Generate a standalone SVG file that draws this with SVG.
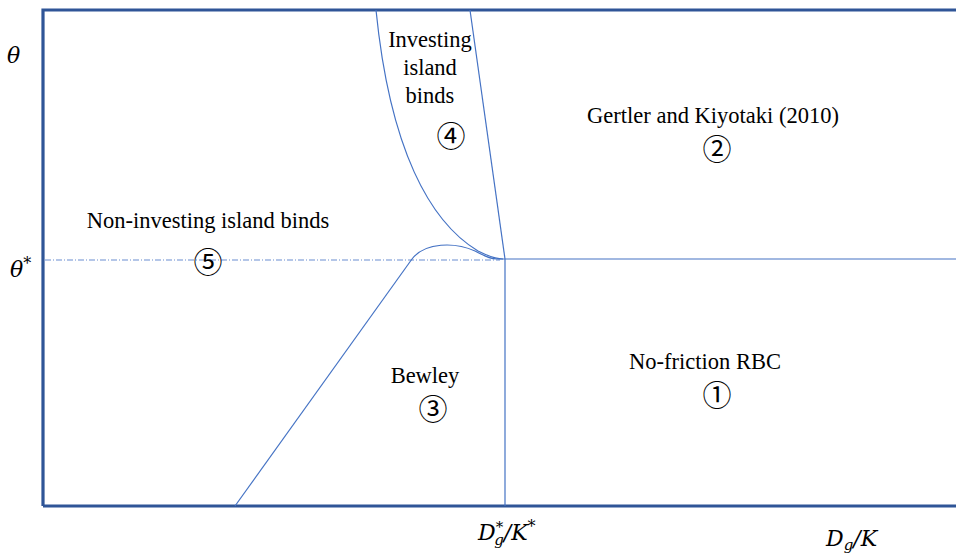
<svg xmlns="http://www.w3.org/2000/svg" width="956" height="556" viewBox="0 0 956 556">
<style>
.frame{fill:none;stroke:#2F5597;stroke-width:3.2}
.thin{fill:none;stroke:#4472C4;stroke-width:1.2}
.dd{fill:none;stroke:#4472C4;stroke-width:1;stroke-dasharray:6 2 1 2;opacity:0.8}
.lbl{font-family:"Liberation Serif","Times New Roman",serif;font-size:22.5px;fill:#000;text-anchor:middle}
.num{font-family:"Noto Sans CJK JP","DejaVu Sans",sans-serif;font-size:29px;fill:#000;text-anchor:middle}
.math{font-family:"DejaVu Serif","Liberation Serif",serif;font-style:italic;font-size:22px;fill:#000}
</style>
<rect width="956" height="556" fill="#fff"/>
<g id="axes">
<path class="frame" d="M43,506 L43,10 L956,10 M43,506 L956,506"/>
</g>
<g id="connectors">
<path class="dd" d="M45,260 L500,260"/>
<path class="thin" d="M505,259 L956,259"/>
<path class="thin" d="M505,259 L505,506"/>
<path class="thin" d="M235,506 L412,259"/>
<path class="thin" d="M412,259 C425,242 455,242 475,251 C485,256 490,259 497,259 L505,259"/>
<path class="thin" d="M376,10 C390,150 430,222 478,251 C488,256 495,259 503,259"/>
<path class="thin" d="M470,10 L505,259"/>
</g>
<g id="n5">
<text class="lbl" x="208" y="228">Non-investing island binds</text>
<text class="num" x="208" y="273">⑤</text>
</g>
<g id="n4">
<text class="lbl" x="430" y="47">Investing</text>
<text class="lbl" x="430" y="75">island</text>
<text class="lbl" x="430" y="103">binds</text>
<text class="num" x="451" y="147">④</text>
</g>
<g id="n2">
<text class="lbl" x="713" y="123">Gertler and Kiyotaki (2010)</text>
<text class="num" x="717" y="160">②</text>
</g>
<g id="n3">
<text class="lbl" x="425" y="383">Bewley</text>
<text class="num" x="433" y="420">③</text>
</g>
<g id="n1">
<text class="lbl" x="705" y="369">No-friction RBC</text>
<text class="num" x="717" y="406">①</text>
</g>
<g id="axislabels">
<text class="math" x="7" y="63">θ</text>
<text class="math" x="10" y="277">θ<tspan font-style="normal" font-size="16" dy="-8">*</tspan></text>
<text class="math" x="478" y="540">D<tspan font-size="15" dy="-8">*</tspan><tspan font-size="15" dx="-9" dy="13">g</tspan><tspan dy="-5">/K</tspan><tspan font-style="normal" font-size="16" dy="-8">*</tspan></text>
<text class="math" x="826" y="546">D<tspan font-size="15" dy="4">g</tspan><tspan dy="-4">/K</tspan></text>
</g>
</svg>
